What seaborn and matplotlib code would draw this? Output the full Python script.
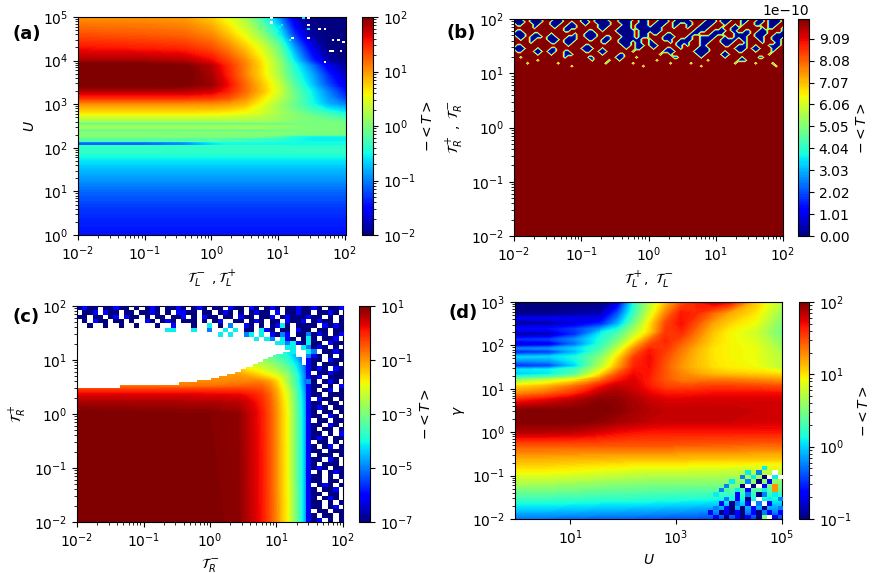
import numpy as np
import matplotlib
matplotlib.use("Agg")
import matplotlib.pyplot as plt
import seaborn as sns
from matplotlib.colors import LogNorm
from matplotlib.ticker import FixedLocator, FuncFormatter, NullLocator
from matplotlib.cm import ScalarMappable

sns.set_style("ticks")
plt.rcParams.update({
    "font.family": ["DejaVu Sans"],
    "mathtext.fontset": "dejavusans",
    "axes.edgecolor": "black", "xtick.color": "black", "ytick.color": "black",
    "text.color": "black", "axes.labelcolor": "black", "font.size": 10,
    "xtick.major.size": 3.5, "ytick.major.size": 3.5,
    "xtick.minor.size": 2, "ytick.minor.size": 2, "axes.linewidth": 0.8,
})

# ---------------- panel (a): log10(-<T>) on (log10 tau_L, log10 U) ----------------
a_x = [-2.0, -1.0, -0.4, 0.0, 0.25, 0.5, 0.75, 1.0, 1.25, 1.5, 1.75, 2.02]
a_rows = [
    (0.0, -1.45), (0.6, -1.3), (1.0, -1.1), (1.22, -0.95), (1.53, -0.75),
    (1.76, -0.55), (1.92, -0.35),
    (2.04, [-0.35] * 8 + [-0.4] * 4),
    (2.06, [-1.1, -1.1, -0.95, -0.6, -0.5, -0.5, -0.5, -0.5, -0.5, -0.5, -0.5, -0.5]),
    (2.13, [-1.1, -1.1, -0.95, -0.6, -0.5, -0.5, -0.5, -0.5, -0.5, -0.5, -0.5, -0.5]),
    (2.15, [-0.2, -0.2, -0.2, -0.2, -0.25, -0.3, -0.35, -0.4, -0.5, -0.55, -0.55, -0.55]),
    (2.22, [-0.2, -0.2, -0.2, -0.2, -0.25, -0.3, -0.35, -0.4, -0.5, -0.55, -0.55, -0.55]),
    (2.24, [-0.05, -0.05, -0.05, -0.05, -0.05, -0.05, -0.1, -0.2, -0.45, -0.55, -0.55, -0.55]),
    (2.28, [0.05, 0.05, 0.05, 0.05, 0.05, 0.0, -0.05, -0.15, -0.4, -0.5, -0.5, -0.5]),
    (2.30, [0.05] * 8 + [0.0] * 4),
    (2.36, [0.05] * 8 + [0.0] * 4),
    (2.38, [-0.15] * 7 + [-0.1, -0.05, 0.0, 0.0, 0.0]),
    (2.42, [-0.15] * 7 + [-0.1, -0.05, 0.0, 0.0, 0.0]),
    (2.44, [0.15] * 7 + [0.1, 0.05, 0.0, 0.0, 0.0]),
    (2.51, [0.15] * 7 + [0.1, 0.05, 0.0, 0.0, 0.0]),
    (2.53, [-0.15] * 7 + [-0.1, -0.05, 0.0, 0.0, -0.05]),
    (2.57, [-0.15] * 7 + [-0.1, -0.05, 0.0, 0.0, -0.05]),
    (2.60, [0.2] * 7 + [0.15, 0.05, 0.0, -0.05, -0.1]),
    (2.70, [0.35, 0.35, 0.35, 0.35, 0.33, 0.3, 0.25, 0.15, 0.05, -0.05, -0.15, -0.3]),
    (2.78, [0.6, 0.6, 0.6, 0.58, 0.55, 0.5, 0.4, 0.2, 0.05, -0.15, -0.3, -0.5]),
    (2.88, [0.8, 0.8, 0.8, 0.8, 0.75, 0.65, 0.45, 0.2, -0.05, -0.3, -0.55, -0.7]),
    (3.00, [1.0, 1.0, 1.0, 1.0, 0.95, 0.85, 0.55, 0.2, -0.1, -0.45, -0.8, -1.0]),
    (3.15, [1.45, 1.45, 1.45, 1.4, 1.3, 1.05, 0.7, 0.35, -0.05, -0.5, -0.9, -1.3]),
    (3.30, [1.8, 1.8, 1.8, 1.72, 1.5, 1.2, 0.85, 0.45, -0.1, -0.55, -1.0, -1.45]),
    (3.45, [2.05, 2.05, 2.0, 1.9, 1.6, 1.2, 0.82, 0.4, -0.2, -0.7, -1.2, -1.65]),
    (3.67, [2.1, 2.1, 2.05, 1.85, 1.5, 1.1, 0.7, 0.25, -0.35, -0.8, -1.35, -1.8]),
    (3.88, [2.05, 2.05, 2.0, 1.8, 1.45, 1.1, 0.7, 0.2, -0.45, -1.0, -1.6, -1.9]),
    (4.00, [1.85, 1.85, 1.8, 1.6, 1.35, 1.05, 0.65, 0.15, -0.6, -1.3, -1.85, -2.0]),
    (4.30, [1.55, 1.5, 1.45, 1.3, 1.08, 0.8, 0.45, -0.05, -0.9, -1.6, -2.0, -2.0]),
    (4.60, [1.3, 1.25, 1.2, 1.05, 0.8, 0.5, 0.1, -0.45, -1.3, -1.9, -2.0, -2.0]),
    (5.00, [1.0, 1.0, 0.95, 0.75, 0.5, 0.2, -0.3, -0.9, -1.75, -2.0, -2.0, -2.0]),
]
a_noise_extent = [0.88, 2.0, 3.95, 5.0]
a_noise = [
    "w...........c.w.............", "............................",
    "w...........................", "....c.........w.............",
    "...c........................", "..............c...w.w.......",
    "............................", "...c........................",
    "............................", "........w.....w.............",
    ".......c...............w.w..", "...........................w",
    "...............b............", "............................",
    "............................", "......................ww..w.",
    "............................", "............................",
    "............................", "............................",
    "....................w.......",
]

# ---------------- panel (b): -<T> (linear, 1e-10 units) ----------------
b_x = np.linspace(-2.0, 2.0, 80)
b_high = 1.0e-9
b_low = 0.0
b_base_y = [-2.0, 1.08]
b_noise_y = np.linspace(2.0, 1.13, 17)   # rows below, top to bottom ('#' = 0)
b_noise = [
    "###--####- --###----- ##--####-- -#####-### ---###--## ##-----### -####--### --##-####-",
    "####-####- -####--#-- ###-#####- -####--### --####-### ###---#### -###---##- -###-####-",
    "-##---##-- -###--###- -#---####- --###-#### -####--##- -##--####- --#--#-#-- -##--###--",
    "------#--- --#--####- -----###-- -####-#### ####---#-- -#--####-- -#--###--- ---#-##--#",
    "-##------- -----##--- --##--#--- ######-### ####------ ---####--# ###-##--## --###----#",
    "####--##-- -#------#- -####----- -#####-### -##--##--- --###---## ##---##### -####--###",
    "-###-####- ###---###- -####--##- --####-### ----####-- -##--##### --#--####- -###--####",
    "--#--##--- ####-####- --##--###- -#######-- #---###--# ###--####- -#####-##- --##--###-",
    "-----#---- -##--###-- ------##-- -####-##-- ##----#-## ##---###-- -####---#- ---#---##-",
    "-##------- ------#--- -##------- --###-###- ###-----## -#---##--- --##--###- -#---####-",
    "####---#-- -##------- ####--#--- ---#--##-- -#---##--# ----####-- -----####- ###---##--",
    "-##---###- ###--##--- -##--###-- -----#---- ----####-- ---#####-- --#---##-- -#----#---",
    "-------#-- -#---###-- ------#--- -##------- ---#--#--- ----###--- -###------ -----#----",
    "--#------- -----#---- --##------ ###---#--- -------##- -----#---- --#----#-- --##------",
    "-------#-- ---------- ---#----#- -#-------- --#------- -------#-- ------###- ----------",
    "----#----- ---#------ -------#-- -----#---- ------#--- --#------- -----#---- -#----#---",
    "---------- -------#-- ---------- --------#- ---------- -----#---- ---------- -------#--",
]

# ---------------- panel (c): log10(-<T>) on (log10 tau_R-, log10 tau_R+) ----------------
c_x = [-2.0, -1.0, 0.0, 0.43, 0.55, 0.68, 0.78, 0.9, 1.0, 1.08, 1.16, 1.23, 1.3, 1.36, 1.41, 1.45, 1.49, 1.6]
c_rows = [
    (-2.0, [1.1, 1.05, 1.0, 0.9, 0.65, 0.35, 0.1, -0.4, -0.9, -1.4, -1.8, -2.5, -3.2, -3.8, -4.4, -5.0, -5.6, -6.5]),
    (0.0, [1.05, 1.0, 0.95, 0.85, 0.6, 0.3, 0.05, -0.45, -0.95, -1.45, -1.85, -2.55, -3.25, -3.85, -4.45, -5.05, -5.6, -6.5]),
    (0.2, [0.75, 0.72, 0.7, 0.6, 0.45, 0.2, -0.05, -0.5, -1.0, -1.5, -1.95, -2.6, -3.3, -3.9, -4.5, -5.1, -5.7, -6.5]),
    (0.35, [0.35, 0.33, 0.3, 0.25, 0.15, 0.0, -0.2, -0.6, -1.1, -1.6, -2.05, -2.7, -3.4, -4.0, -4.6, -5.2, -5.8, -6.5]),
    (0.45, [-0.2, -0.2, -0.2, -0.2, -0.25, -0.3, -0.4, -0.75, -1.2, -1.7, -2.2, -2.85, -3.5, -4.1, -4.7, -5.3, -5.9, -6.5]),
    (0.52, [-0.75, -0.75, -0.7, -0.6, -0.55, -0.55, -0.6, -0.9, -1.35, -1.85, -2.4, -3.0, -3.6, -4.2, -4.8, -5.4, -6.0, -6.5]),
    (0.6, [-0.9, -0.9, -0.9, -0.85, -0.85, -0.8, -0.85, -1.1, -1.5, -2.0, -2.6, -3.15, -3.7, -4.3, -4.9, -5.5, -6.1, -6.5]),
    (0.7, [-1.0, -1.0, -1.0, -1.0, -1.1, -1.3, -1.5, -1.75, -2.0, -2.3, -2.7, -3.2, -3.75, -4.3, -4.85, -5.4, -6.0, -6.5]),
    (0.8, [-1.3, -1.3, -1.3, -1.3, -1.6, -1.8, -2.0, -2.3, -2.5, -2.8, -3.1, -3.5, -4.0, -4.5, -5.0, -5.5, -6.1, -6.5]),
    (0.9, [-1.6, -1.6, -1.6, -1.6, -2.0, -2.2, -2.4, -2.6, -2.9, -3.1, -3.4, -3.8, -4.2, -4.6, -5.1, -5.6, -6.1, -6.5]),
    (1.0, [-2.0, -2.0, -2.0, -2.0, -2.4, -2.6, -2.8, -3.0, -3.3, -3.5, -3.8, -4.1, -4.5, -4.9, -5.3, -5.7, -6.2, -6.5]),
    (1.2, [-3.0, -3.0, -3.0, -3.0, -3.2, -3.4, -3.5, -3.6, -3.8, -3.9, -4.2, -4.5, -4.8, -5.1, -5.5, -5.9, -6.3, -6.5]),
]
# upper/right edge of the computed (non-empty) region
c_edge_x = [-2.0, -1.36, -0.46, -0.19, 0.01, 0.14, 0.26, 0.38, 0.47, 0.54, 0.64, 0.72, 0.79,
            0.87, 0.94, 1.0, 1.1, 1.2, 1.3, 1.38, 1.44, 1.48]
c_edge_y = [0.49, 0.53, 0.60, 0.63, 0.67, 0.70, 0.74, 0.78, 0.83, 0.87, 0.92, 0.97, 1.01,
            1.06, 1.09, 1.12, 1.15, 1.13, 1.05, 0.9, 0.6, -2.0]
c_top_extent = [-2.0, 1.44, 1.12, 2.0]
c_top_noise = [
    "dbdd.ddbdd.d.dbd.ddbd.dbd.dd.bdd.bd.dbd.ddbd",
    ".ddb.bdd.dd.ddbd.d.bbdd.dd.dbd.d.dbdd.b.ddbd",
    "dd.dd.db.bdd.d.dd.ddb.d.bdd.dd.bdd.ddb.dbddd",
    ".d.bdd.dd.d..bd.dbd.ddd.d.db..dd.dbd.dd.bddb",
    "..d..d..d..d...d..b...d..c.d.l..bd.d.dbcd.dd",
    ".................cc...c..l..c.c.dd.cbd.dd.bd",
    "...........................c.c..lc.c.bdlb.dd",
    "..................................c.cl.cbd.d",
    "......................................cclcbd",
    "........................................cc.c",
    ".........................................c..",
]
c_right_extent = [1.44, 2.0, -2.0, 2.0]
c_right_noise = [
    "dbd.ddb", "d.ddbd.", "bdd.d.d", ".dbdd.d", "dd.bdbd", "d.dd.dd", "ldbd.db", "cd.ddb.",
    "cdd.bdd", "ldbd.d.", "cl.ddbd", "lbd.d.d", "bdd.bdd", "bd.ddd.", "bdbd.bd", "b.ddbdd",
    "bdb.ddd", "ld.dbd.", "bdd.d.b", "bd.db.d", "bdd.ddd", "b.bdd.d", "bdd.dd.", "bdbd.dd",
    "bd.dd.d", "bdd.bd.", "b.dd.dd", "bdd.bd.", "bd.dd.d", "bdd.d.b", "bdbd.dd", "b.dd.d.",
    "bd.db.d", "bdd.ddd", "b.ddd.d", "bdd.bd.", "bd.ddd.", "bdbd.dd", "b.d.dbd", "bdd.d.d",
    "bdd.dd.", "b.dbd.d", "bd.ddb.", "bdd.dd.", "bd.dbd.", "bdd.d.d", "bdd.db.", "b.dd.dd",
    "bd.dd.d", "bdb.d.d",
]

# ---------------- panel (d): log10(-<T>) on (log10 U, log10 gamma) ----------------
d_x = [-0.04, 0.5, 1.0, 1.3, 1.6, 1.9, 2.2, 2.5, 2.8, 3.1, 3.4, 3.7, 4.0, 4.5, 5.0]
d_rows = [
    (-2.0, [-0.3, -0.3, -0.32, -0.33, -0.35, -0.35, -0.35, -0.37, -0.38, -0.4, -0.4, -0.42, -0.45, -0.45, -0.45]),
    (-1.8, [-0.05, -0.05, -0.07, -0.08, -0.1, -0.1, -0.12, -0.12, -0.15, -0.15, -0.18, -0.2, -0.2, -0.2, -0.2]),
    (-1.5, [0.3, 0.3, 0.28, 0.27, 0.25, 0.25, 0.25, 0.23, 0.22, 0.2, 0.2, 0.18, 0.15, 0.15, 0.15]),
    (-1.2, [0.65, 0.64, 0.6, 0.58, 0.55, 0.53, 0.52, 0.5, 0.5, 0.5, 0.5, 0.5, 0.5, 0.5, 0.5]),
    (-0.9, [0.95, 0.95, 0.92, 0.9, 0.87, 0.85, 0.82, 0.8, 0.8, 0.8, 0.78, 0.77, 0.76, 0.75, 0.75]),
    (-0.6, [1.18, 1.18, 1.16, 1.15, 1.15, 1.14, 1.13, 1.12, 1.12, 1.12, 1.12, 1.12, 1.12, 1.1, 1.1]),
    (-0.3, [1.45, 1.45, 1.45, 1.45, 1.45, 1.45, 1.45, 1.45, 1.45, 1.44, 1.43, 1.42, 1.42, 1.4, 1.4]),
    (0.0, [1.85, 1.85, 1.83, 1.8, 1.75, 1.7, 1.67, 1.65, 1.65, 1.65, 1.65, 1.65, 1.65, 1.65, 1.65]),
    (0.25, [2.0, 2.0, 2.0, 1.98, 1.95, 1.9, 1.86, 1.82, 1.8, 1.8, 1.8, 1.8, 1.8, 1.78, 1.78]),
    (0.5, [2.0, 2.0, 2.0, 2.0, 2.0, 1.97, 1.9, 1.85, 1.82, 1.82, 1.82, 1.82, 1.82, 1.8, 1.8]),
    (0.75, [1.6, 1.7, 1.82, 1.9, 1.97, 1.95, 1.88, 1.8, 1.75, 1.75, 1.76, 1.77, 1.77, 1.77, 1.77]),
    (0.9, [1.28, 1.38, 1.55, 1.7, 1.85, 1.9, 1.82, 1.72, 1.65, 1.65, 1.66, 1.68, 1.68, 1.68, 1.68]),
    (1.05, [1.05, 1.15, 1.35, 1.5, 1.7, 1.82, 1.78, 1.65, 1.52, 1.5, 1.52, 1.55, 1.55, 1.52, 1.5]),
    (1.2, [0.6, 0.75, 0.95, 1.15, 1.4, 1.65, 1.75, 1.62, 1.45, 1.35, 1.35, 1.35, 1.35, 1.3, 1.25]),
    (1.35, [0.2, 0.3, 0.5, 0.7, 1.05, 1.45, 1.7, 1.65, 1.45, 1.3, 1.2, 1.12, 1.08, 1.05, 1.0]),
    (1.5, [-0.2, -0.1, 0.15, 0.35, 0.75, 1.2, 1.62, 1.68, 1.45, 1.25, 1.12, 1.02, 0.97, 0.92, 0.72]),
    (1.7, [-0.2, -0.2, 0.0, 0.25, 0.6, 1.05, 1.55, 1.7, 1.48, 1.28, 1.12, 1.0, 0.95, 0.9, 0.72]),
    (1.9, [-0.5, -0.5, -0.2, 0.1, 0.35, 0.8, 1.3, 1.65, 1.55, 1.35, 1.15, 1.0, 0.95, 0.9, 0.65]),
    (2.1, [-0.85, -0.8, -0.4, 0.0, 0.2, 0.5, 0.95, 1.4, 1.62, 1.45, 1.25, 1.05, 0.95, 0.85, 0.55]),
    (2.3, [-0.95, -0.95, -0.6, -0.2, 0.1, 0.3, 0.7, 1.05, 1.55, 1.6, 1.35, 1.1, 0.95, 0.8, 0.45]),
    (2.5, [-0.95, -0.95, -0.85, -0.7, -0.5, -0.1, 0.45, 1.0, 1.5, 1.68, 1.45, 1.2, 1.05, 0.9, 0.5]),
    (2.75, [-1.0, -1.0, -1.0, -0.95, -0.85, -0.4, 0.25, 0.8, 1.3, 1.65, 1.6, 1.4, 1.2, 1.0, 0.6]),
    (3.0, [-1.0, -1.0, -1.0, -1.0, -1.0, -0.75, 0.15, 0.7, 1.1, 1.45, 1.65, 1.8, 1.7, 1.1, 0.7]),
]
# striped strip at small U, large gamma
d_sx = [-0.04, 0.6, 1.1, 1.55]
d_srows = [
    (1.2, [0.6, 0.8, 1.02, 1.35]), (1.27, [0.2, 0.35, 0.6, 1.15]),
    (1.35, [-0.05, 0.05, 0.35, 0.98]), (1.44, [0.05, 0.1, 0.3, 0.8]),
    (1.53, [-0.55, -0.45, 0.0, 0.67]), (1.63, [-0.25, -0.2, 0.1, 0.6]),
    (1.74, [0.0, 0.0, 0.15, 0.5]), (1.85, [-0.6, -0.5, -0.1, 0.37]),
    (1.93, [-0.25, -0.2, 0.0, 0.29]), (2.03, [-0.85, -0.75, -0.3, 0.2]),
    (2.14, [-0.5, -0.45, -0.2, 0.15]), (2.26, [-0.95, -0.9, -0.5, 0.07]),
    (2.38, [-0.6, -0.6, -0.45, -0.2]), (2.51, [-0.95, -0.9, -0.75, -0.55]),
    (2.63, [-0.7, -0.7, -0.7, -0.72]), (2.72, [-0.95, -0.95, -0.9, -0.84]),
    (2.85, [-1.0, -1.0, -0.95, -0.93]), (3.0, [-1.0, -1.0, -1.0, -1.0]),
]
d_noise_extent = [3.6, 5.0, -2.0, -0.8]
d_noise = [
    "..........c.y.", ".......c.l..w.", "......l.c.dwcw", "....c..l.d.b..",
    "...l..dwdwb.o.", "..l..c.b..c.o.", ".c...b.l.dl.c.", "...l.b.d.w.c.l",
    "..b.dl.bwlwb..", ".l.bd.d.b.d..l", "b.dbdbd.bdlb.b", ".b.d.bdb.dgwb.",
]

# ---------------- helpers ----------------
W, H = 881, 573
JET = plt.get_cmap("jet")
CODE_FRAC = {"d": 0.0, "b": 0.12, "l": 0.25, "c": 0.36, "g": 0.5, "y": 0.65, "o": 0.75, "r": 0.89}


def box(l, t, r, b):
    return [l / W, 1 - b / H, (r - l) / W, (b - t) / H]


def grid(rows, n):
    ys = np.array([r[0] for r in rows], float)
    z = np.array([np.broadcast_to(np.asarray(r[1], float), (n,)) for r in rows])
    return ys, z


def noise(ax, rows, extent):
    w = max(len(r) for r in rows)
    img = np.zeros((len(rows), w, 4))
    for i, r in enumerate(rows):
        for j, ch in enumerate(r.ljust(w, ".")):
            if ch == "w":
                img[i, j] = (1, 1, 1, 1)
            elif ch in CODE_FRAC:
                img[i, j] = JET(CODE_FRAC[ch])
    ax.imshow(img, extent=extent, origin="upper", interpolation="nearest",
              aspect="auto", zorder=3)


def log_ticks(axis, lo, hi, majors, minor=True):
    axis.set_major_locator(FixedLocator(list(majors)))
    axis.set_major_formatter(FuncFormatter(lambda v, p: r"$\mathdefault{10^{%d}}$" % int(round(v))))
    if minor:
        mins = [k + np.log10(m) for k in range(int(np.floor(lo)) - 1, int(np.ceil(hi)) + 1)
                for m in range(2, 10)]
        axis.set_minor_locator(FixedLocator([t for t in mins if lo <= t <= hi]))
    else:
        axis.set_minor_locator(NullLocator())


def log_cbar(fig, pos, vmin, vmax, ticks=None):
    cax = fig.add_axes(pos)
    cb = fig.colorbar(ScalarMappable(norm=LogNorm(vmin, vmax), cmap="jet"), cax=cax)
    if ticks is not None:
        cb.set_ticks(ticks)
    cb.set_label(r"$-<T>$")
    return cb


fig = plt.figure(figsize=(W / 100, H / 100), dpi=100)

# (a)
ax = fig.add_axes(box(78, 17, 346, 235))
ya, za = grid(a_rows, len(a_x))
ax.contourf(a_x, ya, za, levels=np.linspace(-2, 2, 161), cmap="jet", extend="both", zorder=1)
noise(ax, a_noise, a_noise_extent)
ax.set_xlim(-2, 2.02)
ax.set_ylim(0, 5)
log_ticks(ax.xaxis, -2, 2.02, range(-2, 3))
log_ticks(ax.yaxis, 0, 5, range(0, 6))
ax.set_xlabel(r"$\mathcal{T}_L^-\ ,\mathcal{T}_L^+$")
ax.set_ylabel(r"$U$")
log_cbar(fig, box(362, 17, 373, 235), 1e-2, 1e2)

# (b)
ax = fig.add_axes(box(514, 19, 783, 236))
nb = len(b_x)
zb = [[b_high] * nb for _ in b_base_y]
for s in reversed(b_noise):
    s = s.replace(" ", "")
    zb.append([b_low if ch == "#" else b_high for ch in s.ljust(nb, "-")[:nb]])
yb = list(b_base_y) + list(b_noise_y[::-1])
cs = ax.contourf(b_x, yb, np.array(zb), levels=np.linspace(0, 1e-9, 100), cmap="jet")
ax.set_xlim(-2, 2)
ax.set_ylim(-2, 2)
log_ticks(ax.xaxis, -2, 2, range(-2, 3))
log_ticks(ax.yaxis, -2, 2, range(-2, 3))
ax.set_xlabel(r"$\mathcal{T}_L^+,\ \mathcal{T}_L^-$")
ax.set_ylabel(r"$\mathcal{T}_R^+\ ,\ \mathcal{T}_R^-$")
cax = fig.add_axes(box(798, 19, 809, 236))
cb = fig.colorbar(cs, cax=cax)
cb.set_label(r"$-<T>$")

# (c)
ax = fig.add_axes(box(77, 306, 343, 522))
yc, zc = grid(c_rows, len(c_x))
ax.contourf(c_x, yc, zc, levels=np.linspace(-7, 1, 161), cmap="jet", extend="both", zorder=1)
px, py = [-2.1, -2.1], [2.1, c_edge_y[0]]
for i in range(len(c_edge_x) - 1):
    px += [c_edge_x[i + 1], c_edge_x[i + 1]]
    py += [c_edge_y[i], c_edge_y[i + 1]]
px += [c_edge_x[-1], 2.1, 2.1]
py += [-2.1, -2.1, 2.1]
ax.fill(px, py, color="white", lw=0, zorder=2)
noise(ax, c_top_noise, c_top_extent)
noise(ax, c_right_noise, c_right_extent)
ax.set_xlim(-2, 2)
ax.set_ylim(-2, 2)
log_ticks(ax.xaxis, -2, 2, range(-2, 3))
log_ticks(ax.yaxis, -2, 2, range(-2, 3))
ax.set_xlabel(r"$\mathcal{T}_R^-$")
ax.set_ylabel(r"$\mathcal{T}_R^+$")
log_cbar(fig, box(359, 306, 370, 522), 1e-7, 1e1, ticks=[1e-7, 1e-5, 1e-3, 1e-1, 1e1])

# (d)
ax = fig.add_axes(box(515, 302, 782, 519))
yd, zd = grid(d_rows, len(d_x))
lev_d = np.linspace(-1, 2, 121)
ax.contourf(d_x, yd, zd, levels=lev_d, cmap="jet", extend="both", zorder=1)
ysd, zsd = grid(d_srows, len(d_sx))
ax.contourf(d_sx, ysd, zsd, levels=lev_d, cmap="jet", extend="both", zorder=1.5)
noise(ax, d_noise, d_noise_extent)
ax.set_xlim(-0.04, 5)
ax.set_ylim(-2, 3)
log_ticks(ax.xaxis, -0.04, 5, [1, 3, 5], minor=False)
log_ticks(ax.yaxis, -2, 3, range(-2, 4))
ax.set_xlabel(r"$U$")
ax.set_ylabel(r"$\gamma$")
log_cbar(fig, box(799, 302, 809, 519), 1e-1, 1e2)

for lab, x, y in [("(a)", 12, 34), ("(b)", 447, 33), ("(c)", 12, 317), ("(d)", 448, 313)]:
    fig.text(x / W, 1 - y / H, lab, fontsize=13, fontweight="bold", va="center", ha="left")

fig.savefig("out.png", dpi=100)
